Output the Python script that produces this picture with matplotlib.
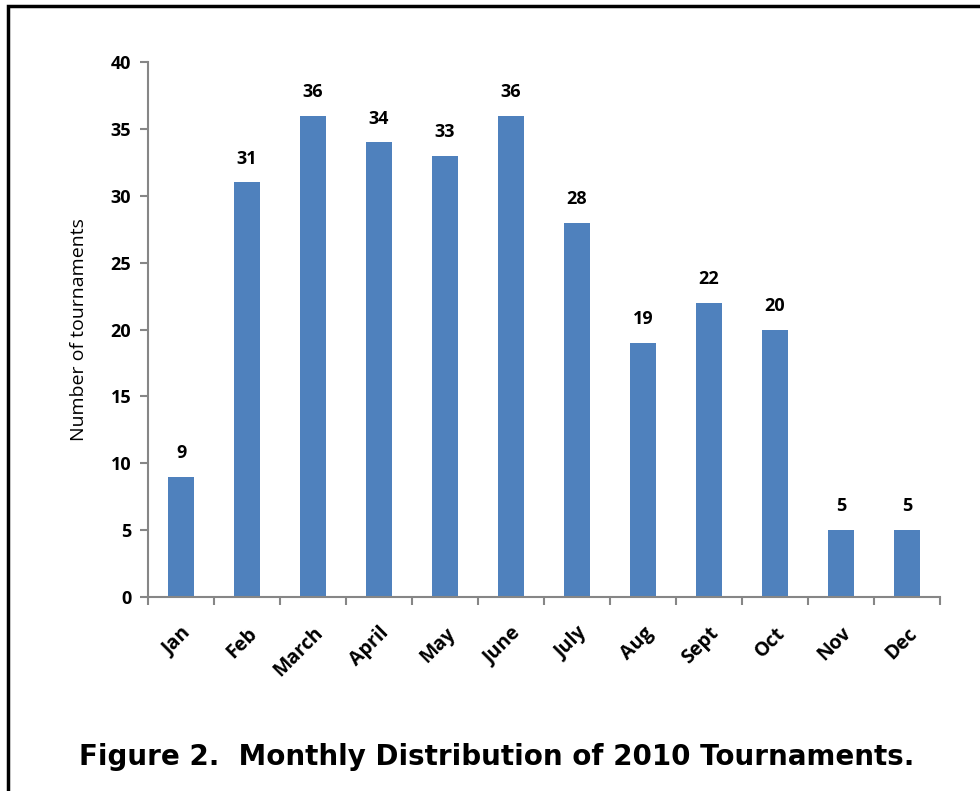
import matplotlib.pyplot as plt
from matplotlib.patches import Rectangle

months = ['Jan', 'Feb', 'March', 'April', 'May', 'June', 'July', 'Aug', 'Sept', 'Oct', 'Nov', 'Dec']
counts = [9, 31, 36, 34, 33, 36, 28, 19, 22, 20, 5, 5]
yticks = [0, 5, 10, 15, 20, 25, 30, 35, 40]

plt.rcParams['font.family'] = ['Open Sans', 'DejaVu Sans']

fig = plt.figure(figsize=(9.8, 7.91), dpi=100)
ax = fig.add_axes([148 / 980, 1 - 597 / 791, 792 / 980, 535 / 791])

x = list(range(len(months)))
bars = ax.bar(x, counts, width=0.4, color='#4F81BD')

# value labels above bars
for xi, v in zip(x, counts):
    ax.text(xi, v + 1.1, str(v), ha='center', va='bottom', fontsize=13, fontweight='bold')

ax.set_xlim(-0.5, len(months) - 0.5)
ax.set_ylim(0, 40)
ax.set_yticks(yticks)
ax.set_yticklabels([str(t) for t in yticks], fontsize=13, fontweight='bold')

# ticks between categories, labels at centres
ax.set_xticks([i - 0.5 for i in range(len(months) + 1)])
ax.set_xticklabels([])
ax.set_xticks(x, minor=True)
ax.set_xticklabels(months, minor=True, rotation=45, ha='right', va='top',
                   rotation_mode='anchor', fontsize=14, fontweight='bold')
ax.tick_params(axis='x', which='minor', length=0, pad=19)
ax.tick_params(axis='x', which='major', length=6, color='#868686', width=1.5, direction='out')
ax.tick_params(axis='y', length=6, color='#868686', width=1.5, direction='out', pad=6)

for s in ['top', 'right']:
    ax.spines[s].set_visible(False)
for s in ['left', 'bottom']:
    ax.spines[s].set_color('#868686')
    ax.spines[s].set_linewidth(1.5)

ax.set_ylabel('Number of tournaments', fontsize=14, labelpad=16, color='black')

fig.text(0.507, 1 - 757 / 791, 'Figure 2.  Monthly Distribution of 2010 Tournaments.',
         ha='center', va='center', fontsize=20, fontweight='bold', family=['DejaVu Sans'])

# outer frame
fig.patches.append(Rectangle((8 / 980, -0.01), 1.0, 1 - 6 / 791 + 0.01, transform=fig.transFigure,
                             fill=False, edgecolor='black', linewidth=2.5))

fig.savefig('out.png', dpi=100)
